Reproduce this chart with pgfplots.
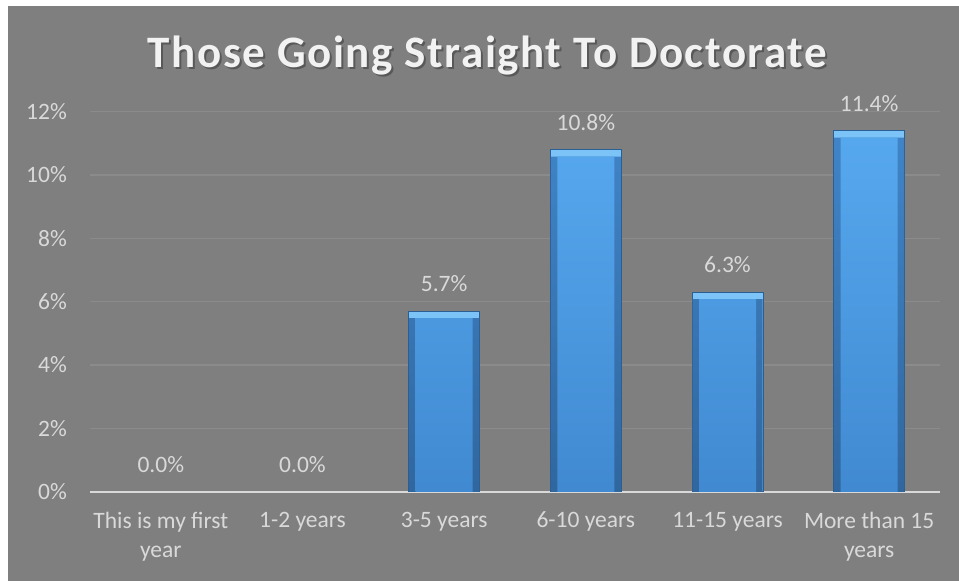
\documentclass[border=0pt]{standalone}
\usepackage{fontspec}
\setmainfont{Carlito}
\newfontfamily\titlefont[LetterSpace=3.5]{Carlito}
\usepackage{pgfplots}
\pgfplotsset{compat=1.18}

\definecolor{chartbg}{HTML}{7F7F7F}
\definecolor{labelgray}{HTML}{D9D9D9}
\definecolor{gridgray}{HTML}{8B8B8B}
\definecolor{titlewhite}{HTML}{F2F2F2}
\definecolor{barlight}{HTML}{56A8EE}
\definecolor{bardeep}{HTML}{4089D1}
\definecolor{baredge}{HTML}{2B5F93}
\definecolor{bevtop}{HTML}{7CC3F7}
\definecolor{bevside}{HTML}{4084C7}
\definecolor{bevbottom}{HTML}{30669E}

\begin{document}
\begin{tikzpicture}[x=1pt,y=1pt]
  % chart area
  \fill[white] (0,0) rectangle (959,581);
  \fill[chartbg] (8,0) rectangle (959,575);

  % title with soft shadow
  \node[font=\titlefont\fontsize{45}{54}\selectfont\bfseries, text=black, opacity=0.3, anchor=base]
    at (489.5,511) {Those Going Straight To Doctorate};
  \node[font=\titlefont\fontsize{45}{54}\selectfont\bfseries, text=titlewhite, anchor=base]
    at (487.5,513) {Those Going Straight To Doctorate};

  \begin{axis}[
    at={(90pt,89.3pt)}, anchor=south west,
    scale only axis, width=850pt, height=380pt,
    xmin=-0.5, xmax=5.5, ymin=0, ymax=12,
    axis x line*=bottom, axis y line*=left,
    y axis line style={draw=none},
    x axis line style={-, draw=labelgray, line width=2pt},
    major tick length=0pt,
    ymajorgrids, grid style={gridgray, line width=1.5pt},
    ytick={0,2,...,12},
    yticklabel={\pgfmathprintnumber{\tick}\%},
    /pgf/number format/assume math mode=true,
    ticklabel style={font=\fontsize{23.5}{29.5}\selectfont, text=labelgray},
    yticklabel style={inner sep=0pt, xshift=-23pt},
    xtick={0,1,2,3,4,5},
    xticklabels={{This is my first\\year},{1-2 years},{3-5 years},{6-10 years},{11-15 years},{More than 15\\years}},
    xticklabel style={align=center, inner sep=0pt, yshift=-20pt},
    ybar, bar shift=0pt,
    valuelabel/.style={
      nodes near coords={\pgfmathprintnumber[fixed,fixed zerofill,precision=1]{\pgfplotspointmeta}\%},
      nodes near coords style={font=\fontsize{23.5}{29}\selectfont, text=labelgray, anchor=south, inner sep=0pt, yshift=19pt},
    },
  ]
    % share of respondents going straight to a doctorate, by years of experience
    \pgfplotstableread{
      x  share
      2  5.7
      3  10.8
      4  6.3
      5  11.4
    }\sharetable
    % outer bar with the light top bevel
    \addplot[bar width=71pt, fill=bevtop, draw=baredge, line width=0.8pt, valuelabel]
      table[x=x, y=share] {\sharetable};
    % side bevels
    \addplot[bar width=70pt, yshift=-7pt, top color=bevside, bottom color=bevbottom, draw=none]
      table[x=x, y=share] {\sharetable};
    % bar face
    \addplot[bar width=57pt, yshift=-7pt, top color=barlight, bottom color=bardeep, draw=none]
      table[x=x, y=share] {\sharetable};
    % categories with no respondents
    \addplot[bar width=71pt, draw=none, fill=none, valuelabel]
      coordinates {(0,0) (1,0)};
  \end{axis}
  \pgfresetboundingbox
  \useasboundingbox (0,0) rectangle (959,581);
\end{tikzpicture}
\end{document}
